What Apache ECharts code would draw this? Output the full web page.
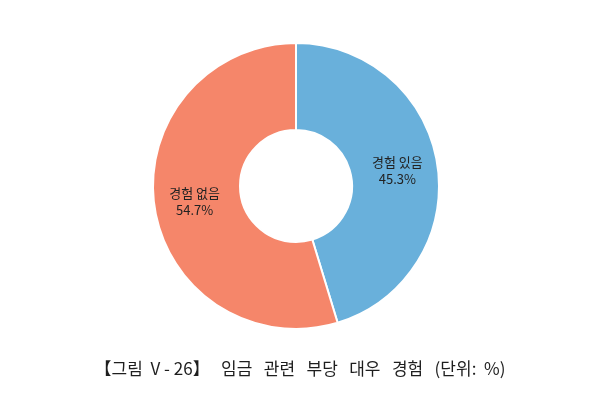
<!DOCTYPE html>
<html><head><meta charset="utf-8">
<script src="https://cdn.jsdelivr.net/npm/echarts@6/dist/echarts.min.js"></script>
<style>html,body{margin:0;padding:0;background:#fff}#c{width:600px;height:405px}</style>
</head><body><div id="c"></div>
<script>
const categories = ['경험 있음', '경험 없음'];
const values = [45.3, 54.7];
const colors = ['#69b0db', '#f5866a'];
const titleText = '【그림  V - 26】   임금   관련   부당   대우   경험   (단위:  %)';

const chart = echarts.init(document.getElementById('c'));
chart.setOption({
  backgroundColor: '#fff',
  animation: false,
  title: {
    text: titleText, left: 'center', top: 355,
    textStyle: { fontFamily: 'Noto Sans CJK KR', fontSize: 17, fontWeight: 'normal', color: '#1e1e1e' }
  },
  series: [{
    type: 'pie',
    center: [296, 186],
    radius: [56, 143],
    startAngle: 90,
    clockwise: true,
    itemStyle: { borderColor: '#fff', borderWidth: 2 },
    label: {
      position: 'inside',
      formatter: p => p.name + '\n' + p.value.toFixed(1) + '%',
      fontFamily: 'Noto Sans CJK KR', fontSize: 13, color: '#222', lineHeight: 17
    },
    labelLine: { show: false },
    data: categories.map((c, i) => ({ name: c, value: values[i], itemStyle: { color: colors[i] } }))
  }]
});
</script></body></html>
